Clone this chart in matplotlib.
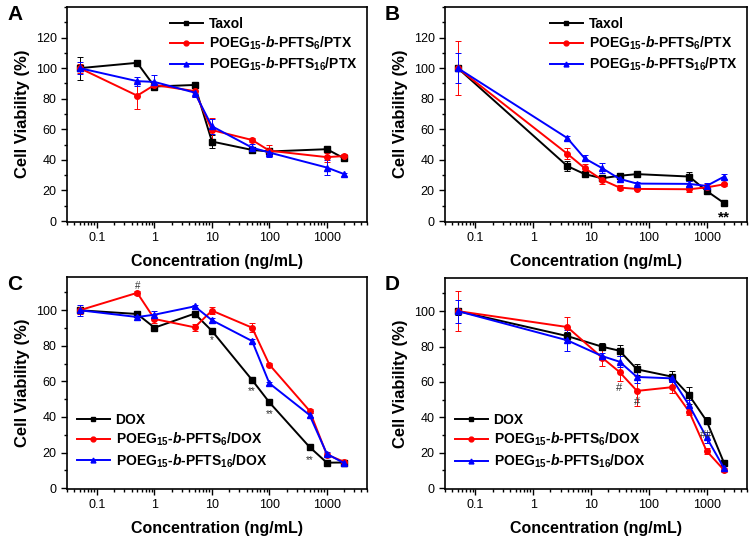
import numpy as np
import matplotlib
matplotlib.use("Agg")
import matplotlib.pyplot as plt
from matplotlib.lines import Line2D
from matplotlib.ticker import FixedLocator, FixedFormatter, LogLocator, NullFormatter, MultipleLocator

plt.rcParams['font.family'] = ['Liberation Sans', 'DejaVu Sans']
plt.rcParams['mathtext.fontset'] = 'custom'
plt.rcParams['mathtext.rm'] = 'Liberation Sans:bold'
plt.rcParams['mathtext.it'] = 'Liberation Sans:italic:bold'
plt.rcParams['mathtext.bf'] = 'Liberation Sans:bold'

# Panel A (PTX)
conc_a = [0.05, 0.5, 1, 5, 10, 50, 100, 1000, 2000]
taxol_a = [100, 103.5, 88, 89, 52, 46.5, 45.5, 47, 41]
red_a = [100, 82, 89, 85, 59.5, 53, 46, 41.8, 42.5]
blue_a = [100, 91.5, 91, 84, 62, 48, 44.8, 35, 30.7]
taxol_a_err = [7.5, 1, 1.5, 1.5, 4, 2, 2, 1, 2]
red_a_err = [3, 9, 2, 4, 8, 1.5, 3.5, 3, 1.5]
blue_a_err = [4, 3, 4.5, 3, 5, 2.5, 3, 5, 1]

# Panel B (PTX)
conc_b = [0.05, 3.9, 7.8, 15.6, 31.25, 62.5, 500, 1000, 2000]
taxol_b = [100, 36, 30.7, 28, 29.6, 30.7, 29.1, 19.7, 11.8]
red_b = [100, 44, 34.6, 27, 21.9, 21, 20.8, 22, 24]
blue_b = [100, 54.3, 41, 34.6, 27.6, 24.5, 24.3, 23, 29]
taxol_b_err = [0, 3.5, 1.5, 1.5, 1.5, 1, 3, 2, 1]
red_b_err = [17.5, 3.5, 3, 3, 1.5, 1, 2, 2, 1]
blue_b_err = [10, 1, 2, 3.5, 1.5, 1, 2, 2, 1.5]

# Panel C (DOX)
conc_c = [0.05, 0.5, 1, 5, 10, 50, 100, 500, 1000, 2000]
dox_c = [100, 97.9, 90.2, 98.1, 88.4, 60.8, 48.2, 23.1, 14.3, 14.4]
red_c = [100, 109.8, 95.1, 90.4, 99.8, 90.2, 69.4, 43.5, 18.8, 14.8]
blue_c = [100, 96.2, 97.5, 102.2, 94.4, 82.7, 58.9, 41.1, 19.3, 14]
dox_c_err = [1, 1, 1, 1, 1, 1, 1, 1, 1, 1]
red_c_err = [2, 1, 2, 2, 2, 2.5, 1, 1, 1, 1]
blue_c_err = [3, 1.5, 2, 1, 1.5, 1, 1, 1, 1, 1]

# Panel D (DOX)
conc_d = [0.05, 3.9, 15.6, 31.25, 62.5, 250, 500, 1000, 2000]
dox_d = [100, 85.9, 79.9, 77.6, 67.1, 63, 52.4, 38, 14.3]
red_d = [100, 91, 73.7, 65.6, 54.9, 57, 43.2, 21, 10.2]
blue_d = [100, 83.5, 74.6, 71.4, 62.8, 62, 46.8, 28.6, 11.3]
dox_d_err = [2, 2.5, 2, 3, 3, 3, 5, 2, 1]
red_d_err = [11.5, 5.5, 4.5, 5, 8.5, 3, 2, 1.5, 1]
blue_d_err = [6.5, 6, 2, 3, 3.5, 2, 3, 3, 1]

xtick_vals = [0.1, 1, 10, 100, 1000]
xtick_labels = ['0.1', '1', '10', '100', '1000']

colors = ['black', 'red', 'blue']
markers = ['s', 'o', '^']


def lab(sub, drug):
    return r'POEG$_{15}$-$\it{b}$-PFTS$_{%s}$/%s' % (sub, drug)


W, H = 754, 540
fig = plt.figure(figsize=(W / 100, H / 100), dpi=100)


def make_ax(x0, x1, y0, y1):
    return fig.add_axes([x0 / W, 1 - y1 / H, (x1 - x0) / W, (y1 - y0) / H])


def style(ax, ylim, yticks):
    ax.set_xscale('log')
    ax.set_xlim(0.03, 5000)
    ax.set_ylim(*ylim)
    ax.xaxis.set_major_locator(FixedLocator(xtick_vals))
    ax.xaxis.set_major_formatter(FixedFormatter(xtick_labels))
    ax.xaxis.set_minor_locator(LogLocator(base=10, subs=np.arange(2, 10)))
    ax.xaxis.set_minor_formatter(NullFormatter())
    ax.yaxis.set_major_locator(FixedLocator(yticks))
    ax.yaxis.set_minor_locator(MultipleLocator(10))
    ax.tick_params(which='both', direction='out', width=1, labelsize=9)
    ax.tick_params(which='major', length=4)
    ax.tick_params(which='minor', length=2.5)
    for sp in ax.spines.values():
        sp.set_linewidth(1.2)
    ax.set_xlabel('Concentration (ng/mL)', fontsize=11.5, fontweight='bold', labelpad=7)
    ax.set_ylabel('Cell Viability (%)', fontsize=12, fontweight='bold', labelpad=4)


def draw(ax, x, ys, errs, labels, loc, anchor):
    for y, e, c, m in zip(ys, errs, colors, markers):
        ax.errorbar(x, y, yerr=e, color=c, marker=m, markersize=4, lw=1.4,
                    elinewidth=0.7, capsize=2, capthick=0.7)
    handles = [Line2D([], [], color=c, marker=m, markersize=3.5, lw=1.4)
               for c, m in zip(colors, markers)]
    ax.legend(handles, labels, loc=loc, bbox_to_anchor=anchor, frameon=False,
              handlelength=2.4, handletextpad=0.4, labelspacing=0.28,
              borderaxespad=0.3, prop={'weight': 'bold', 'size': 10})


# A
axA = make_ax(67, 367, 7, 221.5)
draw(axA, conc_a, [taxol_a, red_a, blue_a], [taxol_a_err, red_a_err, blue_a_err],
     ['Taxol', lab('6', 'PTX'), lab('16', 'PTX')], 'upper right', (1.0, 1.0))
style(axA, (-0.3, 140), [0, 20, 40, 60, 80, 100, 120])

# B
axB = make_ax(445, 747, 7, 221.5)
draw(axB, conc_b, [taxol_b, red_b, blue_b], [taxol_b_err, red_b_err, blue_b_err],
     ['Taxol', lab('6', 'PTX'), lab('16', 'PTX')], 'upper right', (1.0, 1.0))
style(axB, (-0.3, 140), [0, 20, 40, 60, 80, 100, 120])
axB.text(2000, 2.5, '**', fontsize=11, fontweight='bold', ha='center', va='center')

# C
axC = make_ax(67, 367, 277, 489)
draw(axC, conc_c, [dox_c, red_c, blue_c], [dox_c_err, red_c_err, blue_c_err],
     ['DOX', lab('6', 'DOX'), lab('16', 'DOX')], 'lower left', (0.0, 0.045))
style(axC, (-0.5, 118.7), [0, 20, 40, 60, 80, 100])
axC.text(0.5, 113.5, '#', fontsize=7, ha='center', va='center', color='#333333')
for xs, ys, s in [(10, 83, '*'), (50, 54.5, '**'), (100, 41.5, '**'), (500, 16, '**')]:
    axC.text(xs, ys, s, fontsize=7, ha='center', va='center', color='#333333')

# D
axD = make_ax(445, 747, 278, 489)
draw(axD, conc_d, [dox_d, red_d, blue_d], [dox_d_err, red_d_err, blue_d_err],
     ['DOX', lab('6', 'DOX'), lab('16', 'DOX')], 'lower left', (0.0, 0.045))
style(axD, (-0.5, 118.7), [0, 20, 40, 60, 80, 100])
for xs, ys, s in [(31.25, 56.8, '#'), (62.5, 48.7, '#'), (1000, 30, '##')]:
    axD.text(xs, ys, s, fontsize=8, ha='center', va='center', color='#333333')

# panel letters
for lx, ly, t in [(15, 15, 'A'), (392, 15, 'B'), (15, 285, 'C'), (392, 285, 'D')]:
    fig.text(lx / W, 1 - ly / H, t, fontsize=15, fontweight='bold', ha='center', va='center')

fig.savefig('out.png', dpi=100)
